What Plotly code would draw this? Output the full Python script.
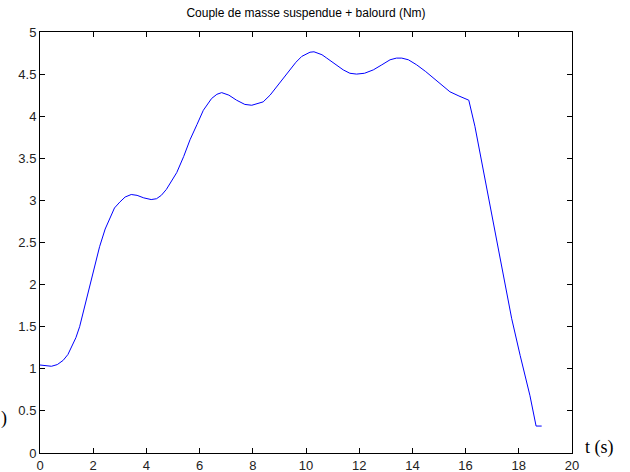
import plotly.graph_objects as go

# Time samples (s) and torque values (Nm)
t = [0.0, 0.2, 0.43, 0.65, 0.87, 1.05, 1.18, 1.35, 1.49, 1.68, 1.87, 2.05, 2.24, 2.45,
     2.62, 2.8, 3.0, 3.2, 3.43, 3.65, 3.9, 4.18, 4.38, 4.56, 4.75, 4.94, 5.14, 5.4,
     5.64, 5.9, 6.14, 6.45, 6.65, 6.83, 7.1, 7.39, 7.7, 7.96, 8.2, 8.39, 8.65, 8.9,
     9.15, 9.4, 9.62, 9.84, 10.0, 10.15, 10.3, 10.46, 10.6, 10.78, 11.1, 11.4, 11.65,
     11.9, 12.2, 12.53, 12.85, 13.16, 13.4, 13.6, 13.85, 14.16, 14.5, 14.79, 15.1,
     15.41, 15.75, 16.12, 16.35, 16.67, 17.04, 17.42, 17.73, 18.05, 18.42, 18.65, 18.86]
torque = [1.045, 1.04, 1.03, 1.05, 1.10, 1.17, 1.26, 1.37, 1.50, 1.74, 1.98, 2.22, 2.45, 2.66,
          2.79, 2.91, 2.98, 3.04, 3.07, 3.06, 3.03, 3.01, 3.02, 3.06, 3.13, 3.22, 3.33, 3.52,
          3.72, 3.90, 4.07, 4.21, 4.26, 4.28, 4.25, 4.19, 4.14, 4.13, 4.15, 4.17, 4.25, 4.35,
          4.45, 4.55, 4.64, 4.71, 4.74, 4.76, 4.765, 4.75, 4.73, 4.69, 4.62, 4.55, 4.51,
          4.50, 4.51, 4.55, 4.61, 4.67, 4.69, 4.69, 4.67, 4.61, 4.53, 4.45, 4.37,
          4.29, 4.24, 4.19, 3.88, 3.36, 2.72, 2.12, 1.60, 1.16, 0.68, 0.32, 0.32]

x_ticks = [0, 2, 4, 6, 8, 10, 12, 14, 16, 18, 20]
y_ticks = [0, 0.5, 1, 1.5, 2, 2.5, 3, 3.5, 4, 4.5, 5]

fig = go.Figure(go.Scatter(x=t, y=torque, mode="lines",
                           line=dict(color="#0000ff", width=1), hoverinfo="skip"))

axis_style = dict(showline=True, linecolor="black", linewidth=1, mirror="ticks",
                  ticks="inside", ticklen=5, tickcolor="black", showgrid=False,
                  zeroline=False, automargin=False,
                  tickfont=dict(family="Liberation Sans", size=13, color="#222"))

fig.update_layout(
    width=630, height=472,
    margin=dict(l=40, r=58, t=32, b=19),
    paper_bgcolor="white", plot_bgcolor="white",
    showlegend=False,
    title=dict(text="Couple de masse suspendue + balourd (Nm)", x=306 / 630, xanchor="center",
               y=1 - 13 / 472, yanchor="middle", automargin=False,
               font=dict(family="Liberation Sans", size=12, color="black")),
    xaxis=dict(range=[0, 20], tickvals=x_ticks, ticktext=[str(v) for v in x_ticks],
               ticklabelstandoff=0, **axis_style),
    yaxis=dict(range=[0, 5], tickvals=y_ticks, ticktext=[f"{v:g}" for v in y_ticks], **axis_style),
    annotations=[
        dict(text="t (s)", xref="paper", yref="paper", x=1.02, y=(453 - 447) / 421,
             xanchor="left", yanchor="middle", showarrow=False,
             font=dict(family="Liberation Serif", size=18, color="black")),
        dict(text=")", xref="paper", yref="paper", x=-41 / 532, y=(453 - 418) / 421,
             xanchor="left", yanchor="middle", showarrow=False,
             font=dict(family="Liberation Serif", size=18, color="black")),
    ],
)

fig.write_html("out.html")
